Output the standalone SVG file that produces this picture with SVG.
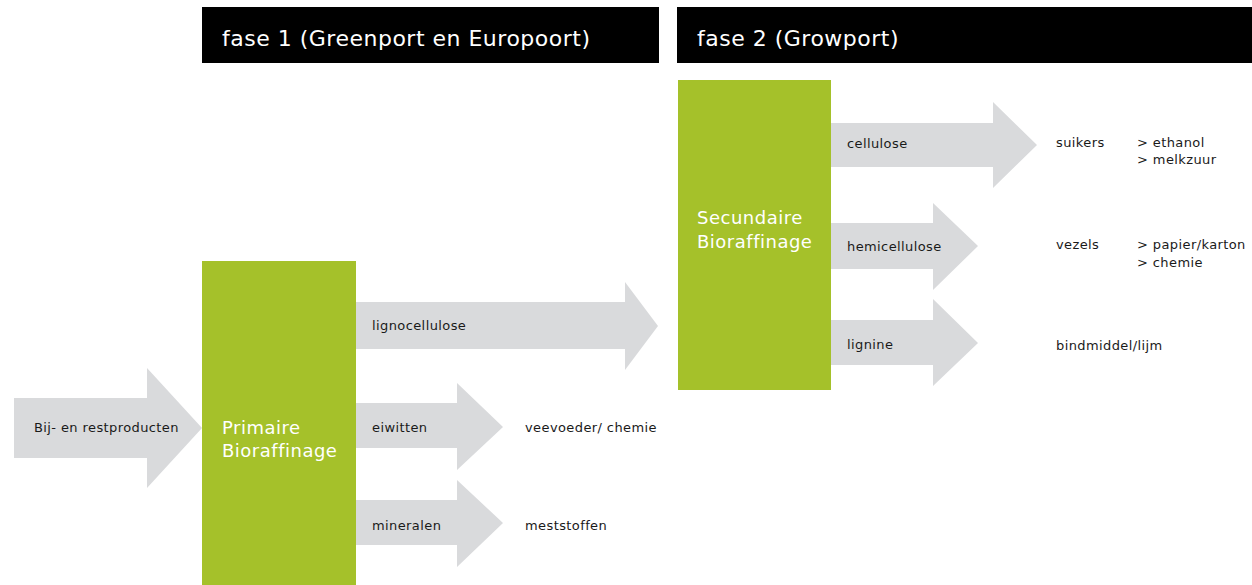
<svg xmlns="http://www.w3.org/2000/svg" width="1252" height="585" viewBox="0 0 1252 585">
<style>
.hdr{fill:#000}
.hdrt{fill:#fff;font-family:"DejaVu Sans",Verdana,sans-serif;font-size:22px;letter-spacing:0.5px}
.box{fill:#a5c12a}
.boxt{fill:#fff;font-family:"DejaVu Sans",Verdana,sans-serif;font-size:18px;letter-spacing:0.5px}
.arr{fill:#d9dadc}
.lbl{fill:#1a1a1a;font-family:"DejaVu Sans",Verdana,sans-serif;font-size:13px;letter-spacing:0.4px}
</style>
<rect width="1252" height="585" fill="#fff"/>
<g id="fase1">
<rect class="hdr" x="202" y="7" width="457" height="56"/>
<text class="hdrt" x="222" y="46">fase 1 (Greenport en Europoort)</text>
</g>
<g id="fase2">
<rect class="hdr" x="677" y="7" width="575" height="56"/>
<text class="hdrt" x="697" y="46">fase 2 (Growport)</text>
</g>
<g id="connectors">
<polygon id="a-input" class="arr" points="14,398 147,398 147,368 202,428 147,488 147,458 14,458"/>
<polygon id="a-ligno" class="arr" points="356,302 625,302 625,282 658,326 625,370 625,349 356,349"/>
<polygon id="a-eiwit" class="arr" points="356,403 457,403 457,383 503,427 457,470 457,448 356,448"/>
<polygon id="a-miner" class="arr" points="356,500 457,500 457,480 503,523 457,567 457,545 356,545"/>
<polygon id="a-cell" class="arr" points="831,123 993,123 993,102 1037,145 993,188 993,167 831,167"/>
<polygon id="a-hemi" class="arr" points="831,223 933,223 933,203 978,246 933,290 933,269 831,269"/>
<polygon id="a-lign" class="arr" points="831,320 933,320 933,299 978,343 933,386 933,365 831,365"/>
<text class="lbl" x="34" y="432">Bij- en restproducten</text>
<text class="lbl" x="372" y="330">lignocellulose</text>
<text class="lbl" x="372" y="432">eiwitten</text>
<text class="lbl" x="372" y="530">mineralen</text>
<text class="lbl" x="847" y="148">cellulose</text>
<text class="lbl" x="847" y="251">hemicellulose</text>
<text class="lbl" x="847" y="349">lignine</text>
</g>
<g id="primair">
<rect class="box" x="202" y="261" width="154" height="324"/>
<text class="boxt" x="222" y="434">Primaire</text>
<text class="boxt" x="222" y="457">Bioraffinage</text>
</g>
<g id="secundair">
<rect class="box" x="678" y="80" width="153" height="310"/>
<text class="boxt" x="697" y="224">Secundaire</text>
<text class="boxt" x="697" y="248">Bioraffinage</text>
</g>
<g id="out-veevoeder"><text class="lbl" x="525" y="432">veevoeder/ chemie</text></g>
<g id="out-meststoffen"><text class="lbl" x="525" y="530">meststoffen</text></g>
<g id="out-suikers">
<text class="lbl" x="1056" y="147">suikers</text>
<text class="lbl" x="1137" y="147">&gt; ethanol</text>
<text class="lbl" x="1137" y="164">&gt; melkzuur</text>
</g>
<g id="out-vezels">
<text class="lbl" x="1056" y="249">vezels</text>
<text class="lbl" x="1137" y="249">&gt; papier/karton</text>
<text class="lbl" x="1137" y="267">&gt; chemie</text>
</g>
<g id="out-bind"><text class="lbl" x="1056" y="350">bindmiddel/lijm</text></g>
</svg>
